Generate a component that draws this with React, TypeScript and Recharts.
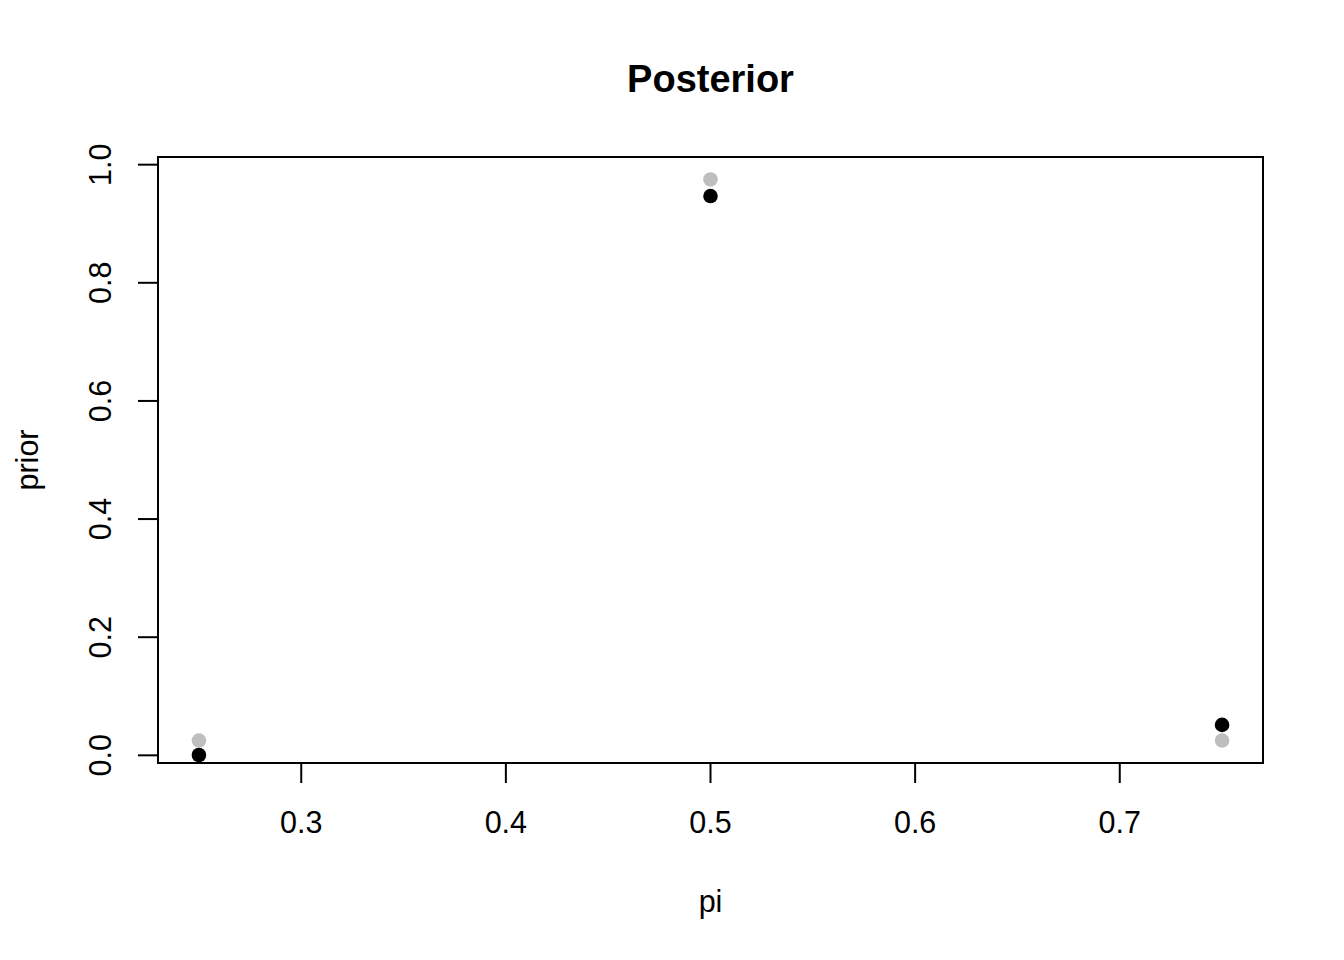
import React from "react";
import {
  ScatterChart,
  Scatter,
  XAxis,
  YAxis,
  ReferenceArea,
} from "recharts";

const piValues = [0.25, 0.5, 0.75];
const priorValues = [0.025, 0.975, 0.025];
const posteriorValues = [0.0006, 0.9469, 0.0515];

const xTicks = [0.3, 0.4, 0.5, 0.6, 0.7];
const yTicks = [0, 0.2, 0.4, 0.6, 0.8, 1.0];

const xDomain = [0.23, 0.77];
const yDomain = [-0.013, 1.013];

const titleText = "Posterior";
const xLabelText = "pi";
const yLabelText = "prior";

const priorData = piValues.map((p, i) => ({ x: p, y: priorValues[i] }));
const posteriorData = piValues.map((p, i) => ({ x: p, y: posteriorValues[i] }));

const FONT = "'Liberation Sans', Arial, Helvetica, sans-serif";

const XTick = (props: any) => {
  const { x, y, payload } = props;
  return (
    <text
      x={x}
      y={y + 37}
      textAnchor="middle"
      dominantBaseline="central"
      fontFamily={FONT}
      fontSize={30.5}
      fill="#000"
    >
      {Number(payload.value).toFixed(1)}
    </text>
  );
};

const YTick = (props: any) => {
  const { x, y, payload } = props;
  const cx = x - 36;
  return (
    <text
      x={cx}
      y={y}
      transform={`rotate(-90 ${cx} ${y})`}
      textAnchor="middle"
      dominantBaseline="central"
      fontFamily={FONT}
      fontSize={30.5}
      fill="#000"
    >
      {Number(payload.value).toFixed(1)}
    </text>
  );
};

const dotShape = (color: string) => (props: any) => (
  <circle cx={props.cx} cy={props.cy} r={7.3} fill={color} />
);

export default function App() {
  return (
    <div style={{ position: "absolute", left: 0, top: 0, width: 1344, height: 960, background: "#fff" }}>
      <ScatterChart
        width={1344}
        height={960}
        margin={{ top: 157, right: 81, bottom: 0, left: 0 }}
      >
        <XAxis
          type="number"
          dataKey="x"
          domain={xDomain}
          ticks={xTicks}
          allowDataOverflow
          height={197}
          axisLine={false}
          tickSize={20}
          tickLine={{ stroke: "#000", strokeWidth: 2 }}
          tick={<XTick />}
          interval={0}
          label={{
            value: xLabelText,
            content: (p: any) => {
              const vb = p.viewBox;
              return (
                <text
                  x={vb.x + vb.width / 2}
                  y={vb.y + 138}
                  textAnchor="middle"
                  dominantBaseline="central"
                  fontFamily={FONT}
                  fontSize={30.5}
                  fill="#000"
                >
                  {xLabelText}
                </text>
              );
            },
          }}
        />
        <YAxis
          type="number"
          dataKey="y"
          domain={yDomain}
          ticks={yTicks}
          allowDataOverflow
          width={158}
          axisLine={false}
          tickSize={20}
          tickLine={{ stroke: "#000", strokeWidth: 2 }}
          tick={<YTick />}
          interval={0}
          label={{
            value: yLabelText,
            content: (p: any) => {
              const vb = p.viewBox;
              const cx = vb.x + 27;
              const cy = vb.y + vb.height / 2;
              return (
                <text
                  x={cx}
                  y={cy}
                  transform={`rotate(-90 ${cx} ${cy})`}
                  textAnchor="middle"
                  dominantBaseline="central"
                  fontFamily={FONT}
                  fontSize={30.5}
                  fill="#000"
                >
                  {yLabelText}
                </text>
              );
            },
          }}
        />
        <ReferenceArea
          x1={xDomain[0]}
          x2={xDomain[1]}
          y1={yDomain[0]}
          y2={yDomain[1]}
          fill="none"
          fillOpacity={0}
          stroke="#000"
          strokeWidth={2}
          ifOverflow="visible"
          label={{
            value: titleText,
            content: (p: any) => {
              const vb = p.viewBox;
              return (
                <text
                  x={vb.x + vb.width / 2}
                  y={vb.y - 78}
                  textAnchor="middle"
                  dominantBaseline="central"
                  fontFamily={FONT}
                  fontSize={38}
                  fontWeight="bold"
                  fill="#000"
                >
                  {titleText}
                </text>
              );
            },
          }}
        />
        <Scatter
          data={priorData}
          fill="#bebebe"
          shape={dotShape("#bebebe")}
          isAnimationActive={false}
        />
        <Scatter
          data={posteriorData}
          fill="#000"
          shape={dotShape("#000")}
          isAnimationActive={false}
        />
      </ScatterChart>
    </div>
  );
}
